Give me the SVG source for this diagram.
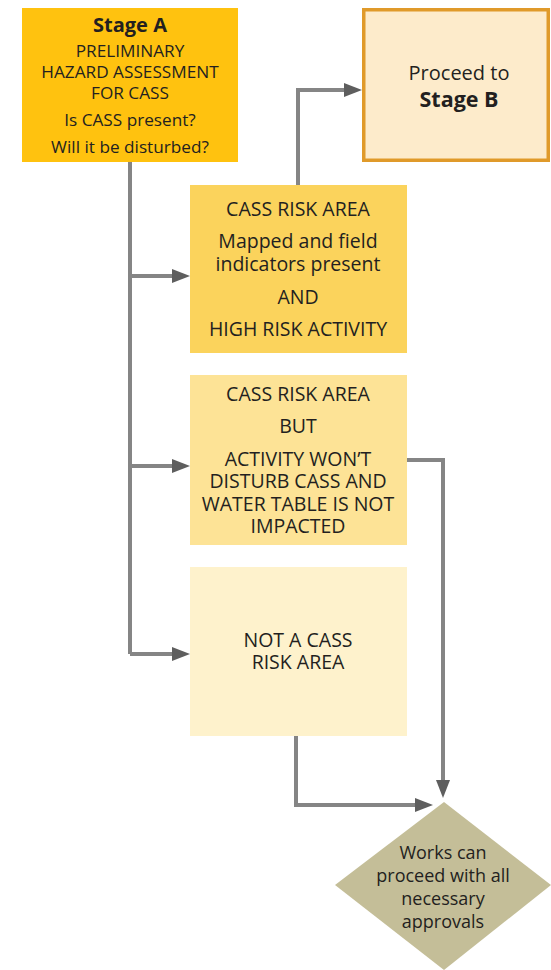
<svg xmlns="http://www.w3.org/2000/svg" width="551" height="970" viewBox="0 0 551 970">
<defs>
<style>
text{font-family:"Open Sans","Liberation Sans",Arial,sans-serif;fill:#231f20;text-anchor:middle}
.b{font-weight:bold}
.a{font-size:17.2px}
.m{font-size:19.5px}
.d{font-size:18px}
.con{fill:none;stroke:#858585;stroke-width:4;stroke-linejoin:miter}
</style>
<marker id="ah" markerUnits="userSpaceOnUse" markerWidth="20" markerHeight="16" refX="8" refY="7" orient="auto">
<path d="M0,0 L18,7 L0,14 z" fill="#5e5e5e"/>
</marker>
</defs>
<rect width="551" height="970" fill="#ffffff"/>
<g id="stageA">
<rect x="22" y="8" width="216" height="154" fill="#ffc20f"/>
<text x="130" y="32" class="b" font-size="20">Stage A</text>
<text x="130" y="57" class="a">PRELIMINARY</text>
<text x="130" y="78" class="a">HAZARD ASSESSMENT</text>
<text x="130" y="99" class="a">FOR CASS</text>
<text x="130" y="126" class="a">Is CASS present?</text>
<text x="130" y="153" class="a">Will it be disturbed?</text>
</g>
<g id="stageB">
<rect x="363.75" y="9.75" width="184.5" height="150.5" fill="#fdebcb" stroke="#e09a2a" stroke-width="3.5"/>
<text x="459" y="80" font-size="20">Proceed to</text>
<text x="459" y="107" class="b" font-size="21.5">Stage B</text>
</g>
<g id="riskHigh">
<rect x="190" y="185" width="217" height="168" fill="#fbd35c"/>
<text x="298" y="216" class="m">CASS RISK AREA</text>
<text x="298" y="248" class="m">Mapped and field</text>
<text x="298" y="271" class="m">indicators present</text>
<text x="298" y="304" class="m">AND</text>
<text x="298" y="336" class="m">HIGH RISK ACTIVITY</text>
</g>
<g id="riskNoDisturb">
<rect x="190" y="375" width="217" height="170" fill="#fde396"/>
<text x="298" y="401" class="m">CASS RISK AREA</text>
<text x="298" y="433" class="m">BUT</text>
<text x="298" y="466" class="m">ACTIVITY WON’T</text>
<text x="298" y="488" class="m">DISTURB CASS AND</text>
<text x="298" y="511" class="m">WATER TABLE IS NOT</text>
<text x="298" y="533" class="m">IMPACTED</text>
</g>
<g id="notRisk">
<rect x="190" y="567" width="217" height="169" fill="#fef2cc"/>
<text x="298" y="647" class="m">NOT A CASS</text>
<text x="298" y="669" class="m">RISK AREA</text>
</g>
<g id="works">
<polygon points="444,802 551,885 444,970 335,885" fill="#c4be98"/>
<text x="443" y="859" class="d">Works can</text>
<text x="443" y="882" class="d">proceed with all</text>
<text x="443" y="905" class="d">necessary</text>
<text x="443" y="928" class="d">approvals</text>
</g>
<g id="connectors">
<path class="con" d="M130,162 V654"/>
<path class="con" d="M130,276 H180" marker-end="url(#ah)"/>
<path class="con" d="M130,466 H180" marker-end="url(#ah)"/>
<path class="con" d="M130,654 H180" marker-end="url(#ah)"/>
<path class="con" d="M298,185 V90 H352" marker-end="url(#ah)"/>
<path class="con" d="M407,460 H443 V788" marker-end="url(#ah)"/>
<path class="con" d="M296,736 V805 H423" marker-end="url(#ah)"/>
</g>
</svg>
